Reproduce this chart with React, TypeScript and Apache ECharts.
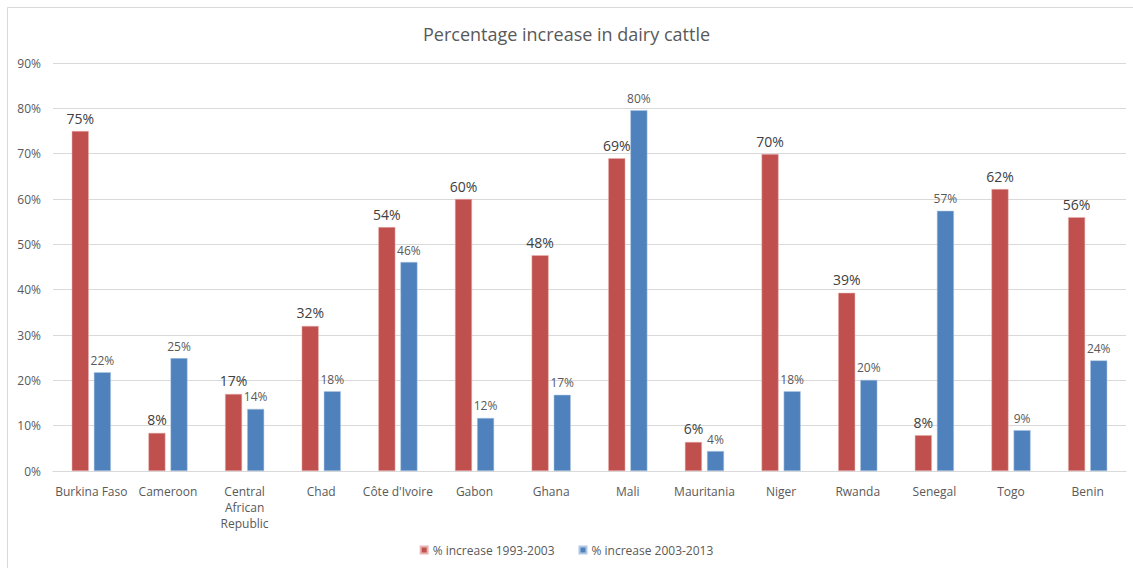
import React, { useEffect, useRef } from "react";
import * as echarts from "echarts";

const categories = [
  "Burkina Faso",
  "Cameroon",
  "Central\nAfrican\nRepublic",
  "Chad",
  "Côte d'Ivoire",
  "Gabon",
  "Ghana",
  "Mali",
  "Mauritania",
  "Niger",
  "Rwanda",
  "Senegal",
  "Togo",
  "Benin",
];
const series1Name = "% increase 1993-2003";
const series2Name = "% increase 2003-2013";
const increase1993 = [75.0, 8.4, 17.0, 32.0, 53.8, 60.0, 47.6, 69.0, 6.4, 69.9, 39.3, 7.9, 62.2, 56.0];
const increase2003 = [21.8, 24.9, 13.7, 17.6, 46.1, 11.7, 16.8, 79.6, 4.4, 17.6, 20.1, 57.4, 9.0, 24.4];

const FONT = "'Open Sans', 'Liberation Sans', sans-serif";

export default function App() {
  const ref = useRef<HTMLDivElement>(null);
  useEffect(() => {
    if (!ref.current) return;
    const chart = echarts.init(ref.current, undefined, { renderer: "svg" });
    chart.setOption({
      animation: false,
      backgroundColor: "#ffffff",
      textStyle: { fontFamily: FONT },
      title: {
        text: "Percentage increase in dairy cattle",
        left: "center",
        top: 20,
        textStyle: { fontFamily: FONT, fontSize: 18, fontWeight: "normal", color: "#595959" },
      },
      graphic: [
        {
          type: "rect",
          shape: { x: 7.5, y: 7.5, width: 1130, height: 570 },
          style: { fill: "none", stroke: "#d9d9d9", lineWidth: 1 },
          silent: true,
        },
      ],
      legend: {
        bottom: 7,
        left: "center",
        itemWidth: 7,
        itemHeight: 7,
        itemGap: 24,
        icon: "rect",
        textStyle: { fontFamily: FONT, fontSize: 12, color: "#595959" },
        data: [series1Name, series2Name],
      },
      grid: { left: 53, right: 7, top: 63, bottom: 97 },
      xAxis: {
        type: "category",
        data: categories,
        axisLine: { lineStyle: { color: "#d9d9d9" } },
        axisTick: { show: false },
        axisLabel: { fontFamily: FONT, fontSize: 12, color: "#595959", margin: 12, lineHeight: 16, interval: 0 },
      },
      yAxis: {
        type: "value",
        min: 0,
        max: 90,
        interval: 10,
        axisLine: { show: false },
        axisTick: { show: false },
        splitLine: { lineStyle: { color: "#d9d9d9" } },
        axisLabel: { fontFamily: FONT, fontSize: 12, color: "#595959", formatter: "{value}%", margin: 12 },
      },
      series: [
        {
          name: series1Name,
          type: "bar",
          data: increase1993,
          barWidth: 17,
          barGap: "30%",
          itemStyle: { color: "#C0504D", borderColor: "#e8b4b3", borderWidth: 0.5 },
          label: {
            show: true,
            position: "top",
            distance: 6,
            fontFamily: FONT,
            fontSize: 14,
            color: "#404040",
            formatter: (p: any) => Math.round(p.value) + "%",
          },
        },
        {
          name: series2Name,
          type: "bar",
          data: increase2003,
          barWidth: 17,
          barGap: "30%",
          itemStyle: { color: "#4F81BD", borderColor: "#b0c8e4", borderWidth: 0.5 },
          label: {
            show: true,
            position: "top",
            distance: 6,
            fontFamily: FONT,
            fontSize: 12,
            color: "#595959",
            formatter: (p: any) => Math.round(p.value) + "%",
          },
        },
      ],
    });
    return () => chart.dispose();
  }, []);
  return <div ref={ref} style={{ position: "fixed", left: 0, top: 0, width: 1133, height: 568 }} />;
}
